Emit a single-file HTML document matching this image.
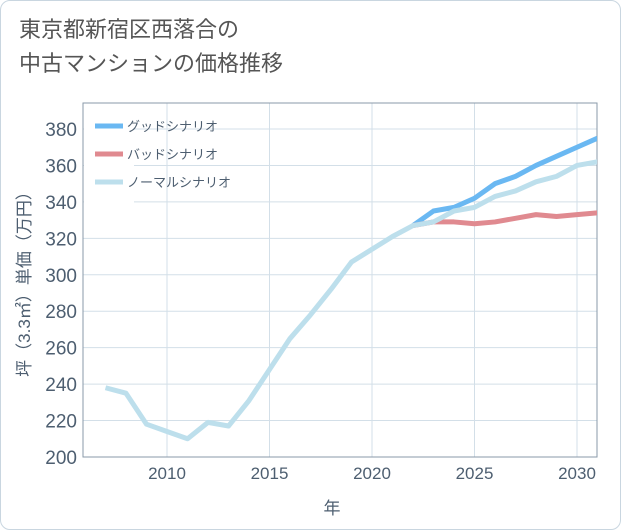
<!DOCTYPE html>
<html><head><meta charset="utf-8"><style>
body{margin:0;background:#fff;}
#card{position:absolute;left:0;top:0;width:619px;height:528px;border:1px solid #c9d6e0;border-radius:10px;background:#fff;overflow:hidden;font-family:"Liberation Sans","Noto Sans CJK JP",sans-serif;}
#title{position:absolute;left:18px;top:12px;font-size:22px;line-height:34px;color:#555;}
</style></head><body>
<div id="card">
<div id="title">東京都新宿区西落合の<br>中古マンションの価格推移</div>
<svg id="chart" width="621" height="530" style="position:absolute;left:-1px;top:-1px"></svg>
</div>
<script>
const years=[2007,2008,2009,2010,2011,2012,2013,2014,2015,2016,2017,2018,2019,2020,2021,2022,2023,2024,2025,2026,2027,2028,2029,2030,2031];
const normalVals=[238,235,218,214,210,219,217,231,248,265,278,292,307,314,321,327,329,335,337,343,346,351,354,360,362];
const goodYears=[2022,2023,2024,2025,2026,2027,2028,2029,2030,2031];
const goodVals=[327,335,337,342,350,354,360,365,370,375];
const badVals=[327,329,329,328,329,331,333,332,333,334];
const yTicks=[200,220,240,260,280,300,320,340,360,380];
const xTicks=[2010,2015,2020,2025,2030];
const seriesNames=["グッドシナリオ","バッドシナリオ","ノーマルシナリオ"];
const L=83,R=597,T=103,B=457;
const x=v=>167+(v-2010)*20.5;
const y=v=>457-(v-200)*(328/180);
const svg=document.getElementById('chart');
const NS='http://www.w3.org/2000/svg';
function mk(t,a){const e=document.createElementNS(NS,t);for(const k in a)e.setAttribute(k,a[k]);svg.appendChild(e);return e;}
let e;
e=mk('rect',{x:L,y:T,width:R-L,height:B-T,fill:'#fff'});


yTicks.forEach(v=>{
 e=mk('line',{x1:L,x2:R,y1:y(v),y2:y(v),stroke:'#d3dfe8','stroke-width':1});
 
 
 e=mk('text',{x:L-6,y:y(v)+7,'text-anchor':'end','font-size':19,fill:'#4d5e70'});e.textContent=v;
 
 
});
xTicks.forEach(v=>{
 e=mk('line',{x1:x(v),x2:x(v),y1:T,y2:B,stroke:'#d3dfe8','stroke-width':1});
 
 
 e=mk('text',{x:x(v),y:B+22,'text-anchor':'middle','font-size':17,fill:'#4d5e70'});e.textContent=v;
 
 
});
e=mk('rect',{x:L,y:T,width:R-L,height:B-T,fill:'none',stroke:'#8a9aa8','stroke-width':1});


e=mk('defs',{});e.innerHTML='<clipPath id="cp"><rect x="'+L+'" y="'+T+'" width="'+(R-L)+'" height="'+(B-T)+'"/></clipPath>';
function line(xs,vs,col,name){
 e=mk('polyline',{points:xs.map((t,i)=>x(t)+','+y(vs[i])).join(' '),fill:'none',stroke:col,'stroke-width':5,'stroke-linejoin':'round','clip-path':'url(#cp)'});
 
 
}
line(goodYears,goodVals,'#6ab8f2','good-scenario-line');
line(goodYears,badVals,'#e08a90','bad-scenario-line');
line(years,normalVals,'#bddfec','normal-scenario-line');
e=mk('rect',{x:L+1,y:108,width:50,height:98,fill:'#fff'});


const cols=['#6ab8f2','#e08a90','#bddfec'];
seriesNames.forEach((n,i)=>{
 const yy=126+i*28;
 e=mk('line',{x1:95,x2:123,y1:yy,y2:yy,stroke:cols[i],'stroke-width':5});
 
 
 e=mk('text',{x:127,y:yy+5,'font-size':13,fill:'#4d5e70'});e.textContent=n;
 
 
});
e=mk('text',{x:0,y:0,'font-size':17,fill:'#4d5e70','text-anchor':'middle',transform:'translate(30,280) rotate(-90)'});
e.textContent='坪（3.3㎡）単価（万円）';


e=mk('text',{x:332,y:514,'font-size':17,fill:'#4d5e70','text-anchor':'middle'});e.textContent='年';


</script>
</body></html>
